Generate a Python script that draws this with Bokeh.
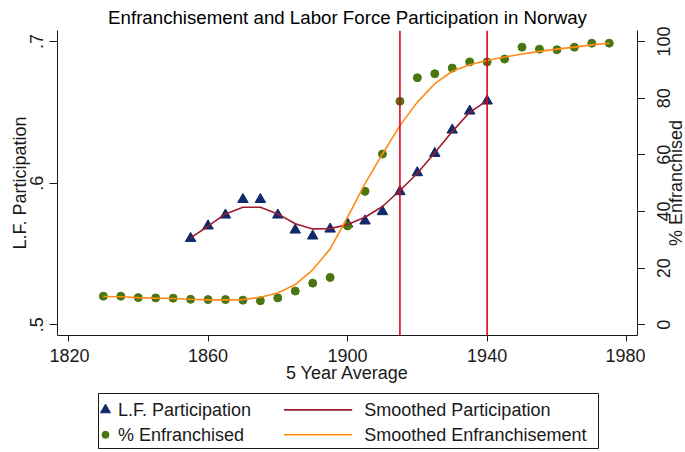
import math
from bokeh.plotting import figure
from bokeh.models import Range1d, LinearAxis, FixedTicker, Span, Spacer
from bokeh.layouts import column, row
from bokeh.embed import file_html
from bokeh.resources import INLINE
from bokeh.core.properties import value

# ---------------- data ----------------
lf_years = [1855, 1860, 1865, 1870, 1875, 1880, 1885, 1890, 1895, 1900,
            1905, 1910, 1915, 1920, 1925, 1930, 1935, 1940]
lf_part = [0.5610, 0.5698, 0.5775, 0.5885, 0.5885, 0.5775, 0.5669, 0.5627, 0.5676, 0.5712,
           0.5733, 0.5799, 0.5940, 0.6074, 0.6210, 0.6375, 0.6509, 0.6580]
lf_smooth = [0.5614, 0.5696, 0.5783, 0.5830, 0.5830, 0.5783, 0.5713, 0.5677, 0.5679, 0.5708,
             0.5759, 0.5835, 0.5948, 0.6070, 0.6214, 0.6364, 0.6500, 0.6583]

en_years = [1830, 1835, 1840, 1845, 1850, 1855, 1860, 1865, 1870, 1875,
            1880, 1885, 1890, 1895, 1900, 1905, 1910, 1915, 1920, 1925,
            1930, 1935, 1940, 1945, 1950, 1955, 1960, 1965, 1970, 1975]
enfranchised = [10.1, 10.1, 9.6, 9.5, 9.4, 9.0, 8.9, 8.9, 8.7, 8.5,
                9.5, 11.9, 14.7, 16.7, 34.9, 47.1, 60.3, 78.9, 87.2, 88.6,
                90.6, 92.8, 92.8, 93.8, 98.0, 97.3, 97.1, 98.0, 99.4, 99.4]
en_smooth = [10.0, 9.9, 9.6, 9.4, 9.3, 9.0, 8.8, 8.8, 8.9, 9.7,
             11.2, 14.2, 19.4, 26.8, 38.0, 49.8, 60.3, 70.3, 78.6, 85.1,
             89.5, 91.8, 93.3, 94.5, 95.6, 96.5, 97.3, 98.0, 98.8, 99.4]

vline_years = [1915, 1940]
x_ticks = [1820, 1860, 1900, 1940, 1980]
left_ticks = [0.5, 0.6, 0.7]
left_tick_labels = [".5", ".6", ".7"]
right_ticks = [0, 20, 40, 60, 80, 100]
right_tick_labels = ["0", "20", "40", "60", "80", "100"]
title_text = "Enfranchisement and Labor Force Participation in Norway"
x_title = "5 Year Average"
left_title = "L.F. Participation"
right_title = "% Enfranchised"
legend_labels = ["L.F. Participation", "% Enfranchised",
                 "Smoothed Participation", "Smoothed Enfranchisement"]

# ---------------- style / geometry ----------------
FONT = "Liberation Sans"
NAVY = "#0f2a6b"
GREEN = "#4a7612"
MAROON = "#9e1b2f"
ORANGE = "#ff8a14"
RED = "#e8001c"
INK = "#1a1a1a"

X0, X1 = 1816.85, 1983.1
YL0, YL1 = 0.49245, 0.70777
YR0, YR1 = -3.78, 103.88

LW, RW = 49, 40            # side panels holding the rotated texts
FW, FH = 580, 305          # plot frame
MT, MB, TICK = 30, 57, 8
H = MT + FH + MB           # 392
MW = TICK + FW + TICK      # 596


def ext_range(lo, hi):
    # same scale as the main frame, stretched over the whole side-panel height
    per = (hi - lo) / FH
    return Range1d(lo - MB * per, hi + MT * per)


def side_fig(width, yrange):
    f = figure(width=width, height=H, x_range=Range1d(0, width), y_range=yrange,
               output_backend="svg", toolbar_location=None, min_border=0,
               x_axis_location=None, y_axis_location=None)
    f.grid.visible = False
    f.outline_line_color = None
    return f


# ---------------- main plot ----------------
p = figure(width=MW, height=H, x_range=Range1d(X0, X1), y_range=Range1d(YL0, YL1),
           output_backend="svg", toolbar_location=None,
           min_border_left=TICK, min_border_right=TICK, min_border_top=MT, min_border_bottom=MB,
           title=title_text)
p.extra_y_ranges = {"pct": Range1d(YR0, YR1)}
p.grid.visible = False
p.outline_line_color = None

p.title.align = "center"
p.title.text_font = FONT
p.title.text_font_size = "18.7px"
p.title.text_font_style = "normal"
p.title.text_color = "black"
p.title.standoff = 5

xa = p.xaxis[0]
xa.ticker = FixedTicker(ticks=x_ticks)
xa.axis_line_color = INK
xa.major_tick_line_color = INK
xa.major_tick_in = 0
xa.major_tick_out = 6
xa.minor_tick_line_color = None
xa.major_label_text_font = FONT
xa.major_label_text_font_size = "18px"
xa.major_label_text_color = INK
xa.major_label_standoff = 7
xa.axis_label = x_title
xa.axis_label_text_font = FONT
xa.axis_label_text_font_size = "18px"
xa.axis_label_text_font_style = "normal"
xa.axis_label_text_color = INK
xa.axis_label_standoff = -2


def tick_only_axis(ax, ticks):
    # ticks drawn as (unlabelled) minor ticks; the rotated labels live in the side panels
    ax.ticker = FixedTicker(ticks=[], minor_ticks=ticks)
    ax.axis_line_color = INK
    ax.major_tick_line_color = None
    ax.major_tick_in = 0
    ax.major_tick_out = 0
    ax.major_label_standoff = 0
    ax.axis_label_standoff = 0
    ax.minor_tick_line_color = INK
    ax.minor_tick_in = 0
    ax.minor_tick_out = TICK


tick_only_axis(p.yaxis[0], left_ticks)
ra = LinearAxis(y_range_name="pct")
tick_only_axis(ra, right_ticks)
p.add_layout(ra, "right")

p.scatter(lf_years, lf_part, marker="triangle", size=10.5, fill_color=NAVY, line_color=NAVY)
p.scatter(en_years, enfranchised, marker="circle", size=8, fill_color=GREEN, line_color=GREEN,
          y_range_name="pct")
p.line(lf_years, lf_smooth, line_color=MAROON, line_width=1.6)
p.line(en_years, en_smooth, line_color=ORANGE, line_width=1.6, y_range_name="pct")
for yr in vline_years:
    p.add_layout(Span(location=yr, dimension="height", line_color=RED, line_width=1.6))

# ---------------- left / right panels (rotated tick labels and axis titles) ----------------
txt = dict(angle=math.pi / 2, text_align="center", text_baseline="middle",
           text_font=value(FONT), text_font_size="18px", text_color=INK)

lp = side_fig(LW, ext_range(YL0, YL1))
lp.text(x=35.5, y=left_ticks, text=left_tick_labels, **txt)
lp.text(x=[19.0], y=[(YL0 + YL1) / 2], text=[left_title], **txt)

rp = side_fig(RW, ext_range(YR0, YR1))
rp.text(x=18.3, y=right_ticks, text=right_tick_labels, **txt)
rp.text(x=[30.5], y=[(YR0 + YR1) / 2], text=[right_title], **txt)

# ---------------- legend ----------------
leg = figure(width=502, height=57, x_range=Range1d(0, 500), y_range=Range1d(0, 55),
             output_backend="svg", toolbar_location=None, min_border=1,
             x_axis_location=None, y_axis_location=None)
leg.grid.visible = False
leg.outline_line_color = INK
leg.outline_line_width = 1
row_y = [38.6, 13.7]
leg.scatter([7], [row_y[0]], marker="triangle", size=10, fill_color=NAVY, line_color=NAVY)
leg.scatter([7], [row_y[1]], marker="circle", size=7, fill_color=GREEN, line_color=GREEN)
leg.line([185.5, 253.7], [row_y[0], row_y[0]], line_color=MAROON, line_width=1.6)
leg.line([185.5, 253.7], [row_y[1], row_y[1]], line_color=ORANGE, line_width=1.6)
leg.text(x=[19.5, 19.5, 265.8, 265.8], y=[row_y[0], row_y[1], row_y[0], row_y[1]],
         text=legend_labels, text_baseline="middle", text_align="left",
         text_font=value(FONT), text_font_size="18px", text_color=INK)

layout = column(row(column(lp), p, column(rp)), row(Spacer(width=97, height=57), leg))
open("out.html", "w").write(file_html(layout, INLINE))
